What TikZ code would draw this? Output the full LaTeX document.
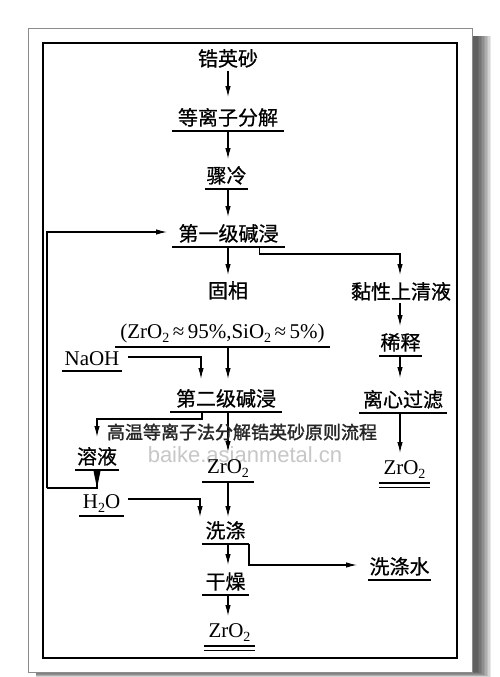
\documentclass[tikz,border=0pt]{standalone}
\usepackage{fontspec}
\setmainfont{Liberation Serif}
\newfontfamily\cjk[FakeBold=0.7]{Noto Sans CJK SC}
\newfontfamily\cjkbold[FakeBold=1.6]{Noto Sans CJK SC}
\newfontfamily\wmfont{Liberation Sans}
\usetikzlibrary{arrows.meta}
\newcommand\subtwo{\raisebox{-4.5pt}{\fontsize{14pt}{14pt}\selectfont 2}}
\tikzset{
  lbl/.style={inner sep=0pt, outer sep=0pt, font=\cjk\fontsize{20pt}{20pt}\selectfont},
  ulline/.style={-, line width=1.6pt},
  ul/.style={lbl, anchor=south, text height=24pt, text depth=6pt,
    append after command={(\tikzlastnode.south west) edge[ulline] (\tikzlastnode.south east)}},
  dbl/.style={append after command={([yshift=-4.5pt]\tikzlastnode.south west) edge[ulline] ([yshift=-4.5pt]\tikzlastnode.south east)}},
  lat/.style={font=\fontsize{21pt}{21pt}\selectfont},
  flow/.style={-{Latex[length=11pt,width=5.5pt]}, line width=1.1pt},
  plain/.style={line width=1.1pt},
}
\begin{document}
\begin{tikzpicture}[x=1pt,y=-1pt]
\useasboundingbox (0,0) rectangle (500,677);
\fill[white] (0,0) rectangle (500,677);
% shadow
\foreach \d in {0,1.5,...,13.5}
  \fill[black,opacity=0.09] (36,36) rectangle (491-\d,677.5-\d*0.4);
% frames
\filldraw[fill=white, draw=black!45, line width=0.8pt] (28,28) rectangle (472,672);
\draw[line width=1.3pt] (43,43) rectangle (457,658);

\coordinate (ax) at (228,0);
\coordinate (rx) at (400,0);

% watermark
\node[font=\wmfont\fontsize{22pt}{22pt}\selectfont, text=black!22, inner sep=0pt] (wm) at (245,455) {baike.asianmetal.cn};

% nodes
\node[lbl, anchor=base, text height=16pt, text depth=5pt] (n1) at (228,66) {锆英砂};
\node[ul, minimum width=112pt, text height=28pt] (n2) at (228,131) {等离子分解};
\node[ul, minimum width=43pt] (n3) at (226.5,189) {骤冷};
\node[ul, minimum width=113pt] (n4) at (228.5,247) {第一级碱浸};
\node[lbl, anchor=base, text height=23pt, text depth=5pt] (n5) at (228,298) {固相};
\node[ul, lat, minimum width=215pt, text depth=9pt] (n5b) at (222.5,347) {(ZrO\subtwo\,≈\,95\%,SiO\subtwo\,≈\,5\%)};
\node[lbl, anchor=base, text height=24pt, text depth=4pt] (n6) at (401,299) {黏性上清液};
\node[ul, minimum width=43pt] (n7) at (400.5,356) {稀释};
\node[ul, minimum width=88pt, text height=29pt] (n8) at (403,413) {离心过滤};
\node[ul, lat, dbl, minimum width=51pt, text height=21pt, text depth=9pt] (n9) at (404.5,483) {ZrO\subtwo};
\node[ul, lat, minimum width=60pt, text height=20pt, text depth=6pt] (n10) at (92,371) {NaOH};
\node[ul, minimum width=112pt, text height=27pt] (n11) at (226,412) {第二级碱浸};
\node[ul, minimum width=44pt, text height=27pt] (n12) at (97,470) {溶液};
\node[ul, lat, minimum width=52pt, text height=21pt, text depth=9pt] (n13) at (228,482) {ZrO\subtwo};
\node[ul, lat, minimum width=45pt, text height=20pt, text depth=8pt] (n14) at (101.5,516) {H\subtwo O};
\node[ul, minimum width=47pt, text height=21pt] (n15) at (225.5,544) {洗涤};
\node[ul, minimum width=63pt] (n16) at (399.5,580) {洗涤水};
\node[ul, minimum width=47pt] (n17) at (225.5,595) {干燥};
\node[ul, lat, dbl, minimum width=51pt, text height=21pt, text depth=9pt] (n18) at (229.5,646) {ZrO\subtwo};

% connectors
\draw[flow] (n1.south -| ax) -- (n2.north -| ax);
\draw[flow] (n2.south -| ax) -- (n3.north -| ax);
\draw[flow] (n3.south -| ax) -- (n4.north -| ax);
\draw[flow] (n4.south -| ax) -- (n5.north -| ax);
\draw[flow] ([xshift=31pt]n4.south) -- ++(0,7) -| (n6.north -| rx);
\draw[flow] (n6.south -| rx) -- (n7.north -| rx);
\draw[flow] (n7.south -| rx) -- (n8.north -| rx);
\draw[flow] (n8.south -| rx) -- (n9.north -| rx);
\draw[flow] (n5b.south -| ax) -- (n11.north -| ax);
\draw[flow] ([xshift=6pt,yshift=1pt]n10.east) -| ([xshift=-25pt]n11.north);
\draw[flow] ([xshift=-24pt]n11.south) -- ++(0,7) -| (n12.north);
\draw[flow] (n11.south -| ax) -- (n13.north -| ax);
\coordinate (fb) at (47,488);
\draw[plain] (n12.south) |- (fb);
\fill ([xshift=-3.5pt,yshift=-1pt]n12.south) -- ([xshift=3.5pt,yshift=-1pt]n12.south) -- (n12.south |- fb) -- cycle;
\draw[flow] (fb) |- ([xshift=-5pt]n4.west);
\draw[flow] (n13.south -| ax) -- (n15.north -| ax);
\draw[flow] ([xshift=4pt,yshift=3pt]n14.east) -| ([xshift=-25.5pt]n15.north);
\draw[flow] (n15.south -| ax) -- (n17.north -| ax);
\draw[flow] (n15.south east) |- ([xshift=-11pt]n16.west);
\draw[flow] (n17.south -| ax) -- (n18.north -| ax);

% title overlay
\node[font=\cjkbold\fontsize{18pt}{18pt}\selectfont, text=black!85, inner sep=0pt] (title) at (242,432) {高温等离子法分解锆英砂原则流程};
\end{tikzpicture}
\end{document}
